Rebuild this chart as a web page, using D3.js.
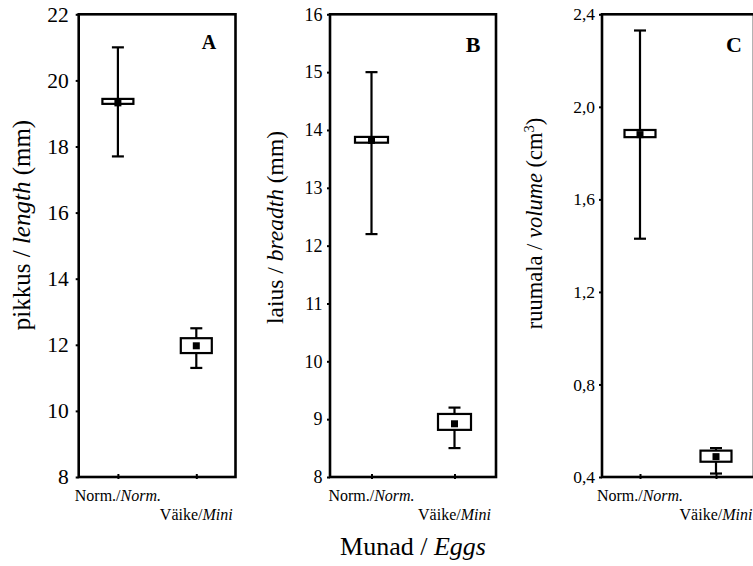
<!DOCTYPE html>
<html><head><meta charset="utf-8">
<script src="https://cdn.jsdelivr.net/npm/d3@7"></script>
<style>
body{margin:0;background:#fff}
svg{display:block}
text{font-family:"Liberation Serif","DejaVu Serif",serif;fill:#000}
</style>
</head><body><svg id="chart" width="753" height="566"></svg>
<script>
// ---- data ----
const categories = ["Norm.", "Mini"];
const categoriesEst = ["Norm./", "Väike/"];
const groupTitleEst = "Munad / ";
const groupTitleEn = "Eggs";
const panelLetters = ["A", "B", "C"];

const yTitleEst = ["pikkus / ", "laius / ", "ruumala / "];
const yTitleEn = ["length", "breadth", "volume"];
const yTitleUnit = ["(mm)", "(mm)", "(cm"];
const yTitleSup = ["", "", "3"];
const yTitleEnd = ["", "", ")"];

const lengthTicks = [8, 10, 12, 14, 16, 18, 20, 22];
const lengthMean = [19.32, 11.97];
const lengthBoxHigh = [19.44, 12.2];
const lengthBoxLow = [19.29, 11.75];
const lengthMax = [21.0, 12.5];
const lengthMin = [17.7, 11.3];

const breadthTicks = [8, 9, 10, 11, 12, 13, 14, 15, 16];
const breadthMean = [13.82, 8.92];
const breadthBoxHigh = [13.88, 9.09];
const breadthBoxLow = [13.78, 8.815];
const breadthMax = [15.0, 9.2];
const breadthMin = [12.2, 8.5];

const volumeTicks = [0.4, 0.8, 1.2, 1.6, 2.0, 2.4];
const volumeMean = [1.88, 0.488];
const volumeBoxHigh = [1.9, 0.514];
const volumeBoxLow = [1.869, 0.466];
const volumeMax = [2.33, 0.525];
const volumeMin = [1.43, 0.415];

// ---- layout (not data) ----
const TOP = 14.3, BOTTOM = 477;
const layout = [
  {left: 78.7, right: 235.5, tickFont: 21.5, tickPad: 7, titleX: 30, titleY: 225, titleFont: 25, letterX: 209, letterY: 49, letterFont: 20, fmt: d3.format("d")},
  {left: 330, right: 496, tickFont: 18, tickPad: 4.5, titleX: 283, titleY: 227.5, titleFont: 23.5, letterX: 473, letterY: 52, letterFont: 22, fmt: d3.format("d")},
  {left: 602, right: 754, tickFont: 17.5, tickPad: 4, titleX: 542, titleY: 223.5, titleFont: 22.5, letterX: 734, letterY: 52, letterFont: 22, fmt: v => d3.format(".1f")(v).replace(".", ",")}
];

const panelsData = [
  {ticks: lengthTicks, mean: lengthMean, hi: lengthBoxHigh, lo: lengthBoxLow, max: lengthMax, min: lengthMin},
  {ticks: breadthTicks, mean: breadthMean, hi: breadthBoxHigh, lo: breadthBoxLow, max: breadthMax, min: breadthMin},
  {ticks: volumeTicks, mean: volumeMean, hi: volumeBoxHigh, lo: volumeBoxLow, max: volumeMax, min: volumeMin}
];

const svg = d3.select("#chart");

panelsData.forEach((pd, i) => {
  const L = layout[i];
  const g = svg.append("g");
  const y = d3.scaleLinear().domain([pd.ticks[0], pd.ticks[pd.ticks.length - 1]]).range([BOTTOM, TOP]);
  const x = d3.scalePoint().domain(categories).range([L.left, L.right]).padding(0.5);

  // y axis
  const ya = g.append("g").attr("transform", `translate(${L.left},0)`)
    .call(d3.axisLeft(y).tickValues(pd.ticks).tickSize(3).tickPadding(L.tickPad).tickFormat(L.fmt));
  ya.select(".domain").remove();
  ya.selectAll("line").attr("stroke", "#000").attr("stroke-width", 2);
  ya.selectAll("text").style("font-size", L.tickFont + "px").attr("fill", "#000").attr("font-family", null);

  // x axis ticks
  const xa = g.append("g").attr("transform", `translate(0,${BOTTOM})`)
    .call(d3.axisBottom(x).tickSize(-3).tickFormat(""));
  xa.select(".domain").remove();
  xa.selectAll("line").attr("stroke", "#000").attr("stroke-width", 2).attr("y2", -3).attr("y1", 2);

  // frame
  g.append("rect").attr("x", L.left).attr("y", TOP).attr("width", L.right - L.left).attr("height", BOTTOM - TOP)
    .attr("fill", "none").attr("stroke", "#000").attr("stroke-width", 2.6);

  // category labels
  categories.forEach((c, j) => {
    const t = g.append("text").attr("x", x(c)).attr("y", j === 0 ? 500.5 : 519.5)
      .attr("text-anchor", "middle").style("font-size", "16px");
    t.append("tspan").text(categoriesEst[j]);
    t.append("tspan").style("font-style", "italic").text(c);
  });

  // whiskers
  const idx = d3.range(categories.length);
  const wg = g.append("g").attr("stroke", "#000").attr("stroke-width", 2.2).attr("fill", "none");
  wg.selectAll("line.w").data(idx).join("line")
    .attr("x1", j => x(categories[j])).attr("x2", j => x(categories[j]))
    .attr("y1", j => y(pd.max[j])).attr("y2", j => y(pd.min[j]));
  wg.selectAll("line.capTop").data(idx).join("line").attr("class", "capTop")
    .attr("x1", j => x(categories[j]) - 6).attr("x2", j => x(categories[j]) + 6)
    .attr("y1", j => y(pd.max[j])).attr("y2", j => y(pd.max[j]));
  wg.selectAll("line.capBot").data(idx).join("line").attr("class", "capBot")
    .attr("x1", j => x(categories[j]) - 6).attr("x2", j => x(categories[j]) + 6)
    .attr("y1", j => y(pd.min[j])).attr("y2", j => y(pd.min[j]));

  // boxes
  const bw = i === 1 ? 33 : 31;
  g.selectAll("rect.box").data(idx).join("rect").attr("class", "box")
    .attr("x", j => x(categories[j]) - bw / 2).attr("width", bw)
    .attr("y", j => y(pd.hi[j])).attr("height", j => y(pd.lo[j]) - y(pd.hi[j]))
    .attr("fill", "#fff").attr("stroke", "#000").attr("stroke-width", 2.2);

  // means
  g.selectAll("rect.mean").data(idx).join("rect").attr("class", "mean")
    .attr("x", j => x(categories[j]) - 3.5).attr("width", 7)
    .attr("y", j => y(pd.mean[j]) - 3.5).attr("height", 7).attr("fill", "#000");

  // panel letter
  g.append("text").attr("x", L.letterX).attr("y", L.letterY).attr("text-anchor", "middle")
    .style("font-size", L.letterFont + "px").style("font-weight", "bold").text(panelLetters[i]);

  // y title
  const tt = g.append("text").attr("transform", `translate(${L.titleX},${L.titleY}) rotate(-90)`)
    .attr("text-anchor", "middle").style("font-size", L.titleFont + "px");
  tt.append("tspan").text(yTitleEst[i]);
  tt.append("tspan").style("font-style", "italic").text(yTitleEn[i]);
  tt.append("tspan").text(" " + yTitleUnit[i]);
  if (yTitleSup[i]) {
    tt.append("tspan").attr("dy", "-0.55em").style("font-size", "0.65em").text(yTitleSup[i]);
    tt.append("tspan").attr("dy", "0.36em").text(yTitleEnd[i]);
  }
});

// group title
const gt = svg.append("text").attr("x", 413).attr("y", 554.5).attr("text-anchor", "middle").style("font-size", "26px");
gt.append("tspan").text(groupTitleEst);
gt.append("tspan").style("font-style", "italic").text(groupTitleEn);
</script>
</body></html>
